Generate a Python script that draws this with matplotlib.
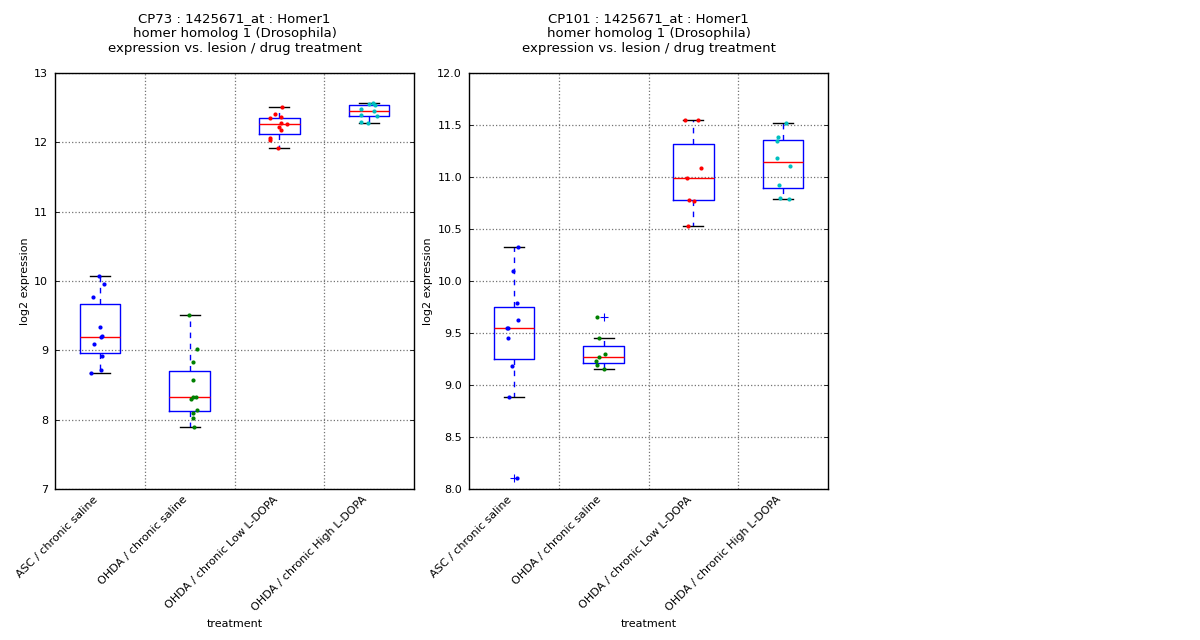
import matplotlib
matplotlib.use("Agg")
import matplotlib.pyplot as plt
import numpy as np

# ---------------------------------------------------------------------
# Data
# ---------------------------------------------------------------------
groups = ["ASC / chronic saline", "OHDA / chronic saline",
          "OHDA / chronic Low L-DOPA", "OHDA / chronic High L-DOPA"]
point_colors = ["#0000ff", "#008000", "#ff0000", "#00bfbf"]

# CP73
cp73_asc = [10.076, 9.961, 9.773, 9.341, 9.207, 9.192, 9.095, 8.922, 8.721, 8.673]
cp73_saline = [9.514, 9.023, 8.836, 8.576, 8.331, 8.331, 8.302, 8.144, 8.100, 8.028, 7.894]
cp73_low = [12.510, 12.409, 12.351, 12.365, 12.279, 12.269, 12.225, 12.182, 12.067, 12.038, 11.923]
cp73_high = [12.567, 12.553, 12.538, 12.481, 12.452, 12.394, 12.380, 12.293, 12.279]

cp73_jit_asc = [-0.01, 0.05, -0.08, 0.0, 0.02, 0.01, -0.07, 0.02, 0.01, -0.10]
cp73_jit_saline = [-0.01, 0.08, 0.035, 0.035, 0.035, 0.07, 0.02, 0.08, 0.035, 0.035, 0.045]
cp73_jit_low = [0.025, -0.05, -0.10, 0.015, 0.015, 0.09, 0.0, 0.015, -0.11, -0.10, -0.01]
cp73_jit_high = [0.04, -0.004, 0.07, -0.09, 0.05, -0.09, 0.085, -0.09, -0.015]

# CP101
cp101_asc = [10.330, 10.099, 9.791, 9.628, 9.551, 9.551, 9.455, 9.186, 8.887, 8.106]
cp101_saline = [9.657, 9.455, 9.301, 9.272, 9.234, 9.195, 9.157]
cp101_low = [11.551, 11.551, 11.089, 10.993, 10.782, 10.772, 10.532]
cp101_high = [11.522, 11.387, 11.349, 11.186, 11.109, 10.926, 10.801, 10.791]

cp101_jit_asc = [0.05, -0.01, 0.04, 0.05, -0.08, -0.07, -0.06, -0.02, -0.05, 0.03]
cp101_jit_saline = [-0.07, -0.05, 0.02, -0.05, -0.08, -0.07, 0.0]
cp101_jit_low = [-0.09, 0.05, 0.08, -0.07, -0.05, 0.01, -0.06]
cp101_jit_high = [0.03, -0.06, -0.07, -0.07, 0.08, -0.05, -0.04, 0.06]

panels = [
    {"title": "CP73 : 1425671_at : Homer1\nhomer homolog 1 (Drosophila)\n"
              "expression vs. lesion / drug treatment",
     "values": [cp73_asc, cp73_saline, cp73_low, cp73_high],
     "jitter": [cp73_jit_asc, cp73_jit_saline, cp73_jit_low, cp73_jit_high],
     "ylim": (7, 13), "yticks": [7, 8, 9, 10, 11, 12, 13], "fmt": "%d"},
    {"title": "CP101 : 1425671_at : Homer1\nhomer homolog 1 (Drosophila)\n"
              "expression vs. lesion / drug treatment",
     "values": [cp101_asc, cp101_saline, cp101_low, cp101_high],
     "jitter": [cp101_jit_asc, cp101_jit_saline, cp101_jit_low, cp101_jit_high],
     "ylim": (8, 12), "yticks": [8.0, 8.5, 9.0, 9.5, 10.0, 10.5, 11.0, 11.5, 12.0],
     "fmt": "%.1f"},
]

# ---------------------------------------------------------------------
# Plotting
# ---------------------------------------------------------------------
plt.rcParams["font.family"] = "DejaVu Sans"
fig = plt.figure(figsize=(12, 6.4), dpi=100)
fig.patch.set_facecolor("white")

axes_lefts = [55 / 1200, 469 / 1200]
positions = np.arange(1, 5)

for left, p in zip(axes_lefts, panels):
    ax = fig.add_axes([left, 151 / 640, 359 / 1200, 416 / 640])

    ax.boxplot(p["values"], positions=positions, widths=0.45,
               boxprops=dict(color="#0000ff", linewidth=1),
               medianprops=dict(color="#ff0000", linewidth=1),
               whiskerprops=dict(color="#0000ff", linestyle="--",
                                 dashes=(4, 4), linewidth=1),
               capprops=dict(color="black", linewidth=1),
               flierprops=dict(marker="+", markeredgecolor="#0000ff",
                               markersize=6, markeredgewidth=0.8))

    for i, (vals, jit) in enumerate(zip(p["values"], p["jitter"])):
        xs = positions[i] + np.array(jit)
        ax.plot(xs, vals, "o", color=point_colors[i], markersize=3,
                markeredgewidth=0, zorder=3)

    ax.set_xlim(0.5, 4.5)
    ax.set_ylim(*p["ylim"])
    ax.set_yticks(p["yticks"])
    ax.set_yticklabels([p["fmt"] % t for t in p["yticks"]], fontsize=8)
    ax.set_xticks(positions)
    ax.set_xticklabels(groups, rotation=45, ha="right", fontsize=8)
    ax.set_xticks([1.5, 2.5, 3.5], minor=True)
    ax.tick_params(axis="x", which="both", length=0, pad=4)
    ax.tick_params(axis="y", direction="in", length=3, width=0.6,
                   right=True, pad=5)

    ax.grid(False)
    ax.xaxis.grid(True, which="minor", color="0.45", linestyle=":",
                  linewidth=0.9)
    ax.yaxis.grid(True, which="major", color="0.45", linestyle=":",
                  linewidth=0.9)
    ax.set_axisbelow(True)

    for spine in ax.spines.values():
        spine.set_linewidth(1)
        spine.set_color("black")

    ax.set_ylabel("log2 expression", fontsize=8, labelpad=3)
    ax.set_xlabel("treatment", fontsize=8)
    ax.set_title(p["title"], fontsize=9.5, pad=15)

fig.savefig("out.png", dpi=100, facecolor="white")
